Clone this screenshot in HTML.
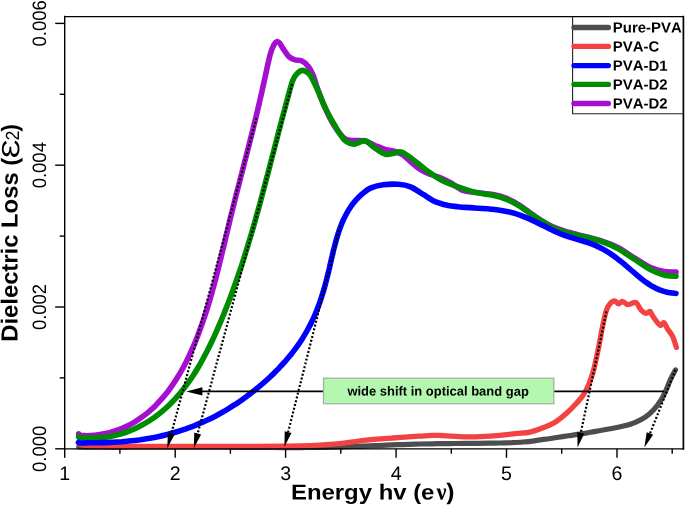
<!DOCTYPE html>
<html lang="en"><head><meta charset="utf-8"><title>Dielectric Loss</title>
<style>
html,body{margin:0;padding:0;background:#fff;}
body{width:685px;height:505px;overflow:hidden;font-family:"Liberation Sans",sans-serif;}
svg{display:block;will-change:transform;}
</style></head><body>
<svg width="685" height="505" viewBox="0 0 685 505">
<rect x="0" y="0" width="685" height="505" fill="#ffffff"/>
<path d="M78.7,447.0 C80.6,447.0 86.3,447.1 90.1,447.1 C93.9,447.2 97.7,447.2 101.5,447.2 C105.3,447.2 109.1,447.2 112.9,447.3 C116.7,447.3 120.5,447.3 124.3,447.3 C128.1,447.3 131.9,447.2 135.7,447.2 C139.5,447.2 143.3,447.2 147.1,447.2 C150.9,447.2 154.7,447.2 158.5,447.1 C162.3,447.1 166.1,447.1 169.9,447.1 C173.7,447.1 177.5,447.1 181.3,447.1 C185.1,447.1 188.9,447.1 192.7,447.1 C196.5,447.1 200.3,447.1 204.1,447.1 C207.9,447.1 211.7,447.1 215.5,447.1 C219.3,447.2 223.1,447.2 226.9,447.2 C230.7,447.3 234.5,447.3 238.3,447.3 C242.1,447.3 245.9,447.4 249.7,447.4 C253.5,447.4 257.3,447.5 261.1,447.5 C264.8,447.5 268.6,447.5 272.4,447.5 C276.2,447.6 280.0,447.6 283.8,447.6 C287.6,447.6 291.4,447.6 295.2,447.6 C299.0,447.6 302.8,447.5 306.6,447.5 C310.4,447.5 314.2,447.4 318.0,447.4 C321.8,447.3 325.6,447.3 329.4,447.2 C333.2,447.1 337.0,447.0 340.8,446.9 C344.6,446.8 348.4,446.7 352.2,446.5 C356.0,446.4 359.8,446.2 363.6,446.1 C367.4,445.9 371.2,445.8 375.0,445.6 C378.8,445.5 382.6,445.3 386.4,445.1 C390.2,445.0 393.9,444.8 397.7,444.7 C401.5,444.5 405.3,444.4 409.1,444.3 C412.9,444.2 416.7,444.1 420.5,444.0 C424.3,443.9 428.1,443.8 431.9,443.8 C435.7,443.7 439.5,443.7 443.3,443.6 C447.1,443.6 450.9,443.5 454.7,443.5 C458.5,443.5 462.3,443.5 466.1,443.4 C469.9,443.4 473.7,443.4 477.5,443.3 C481.3,443.3 485.1,443.3 488.9,443.2 C492.7,443.2 496.5,443.1 500.3,443.0 C504.1,442.9 507.9,442.8 511.7,442.7 C515.5,442.5 519.3,442.3 523.0,442.0 C526.8,441.7 530.6,441.3 534.3,440.8 C538.1,440.3 541.9,439.7 545.6,439.2 C549.4,438.6 553.2,438.0 556.9,437.5 C560.7,436.9 564.5,436.4 568.3,435.8 C572.0,435.3 575.7,434.7 579.4,434.1 C583.2,433.5 586.8,432.9 590.5,432.2 C594.2,431.6 597.9,430.9 601.7,430.3 C605.5,429.6 609.3,429.0 613.1,428.3 C616.9,427.6 620.8,426.8 624.5,425.8 C628.2,424.8 631.9,423.8 635.4,422.3 C638.8,420.8 642.2,419.2 645.2,417.1 C648.3,415.0 651.1,412.5 653.7,409.7 C656.3,407.0 658.6,403.9 660.6,400.7 C662.7,397.5 664.3,394.0 665.9,390.5 C667.5,387.1 668.7,383.4 670.3,379.9 C671.8,376.5 674.6,371.6 675.5,369.9" fill="none" stroke="#4d4d4d" stroke-width="5.2" stroke-linecap="round" stroke-linejoin="round"/>
<path d="M79.5,444.4 C81.2,444.6 83.2,445.4 90.0,445.8 C96.8,446.2 105.0,446.4 120.0,446.5 C135.0,446.6 160.0,446.5 180.0,446.5 C200.0,446.5 220.0,446.5 240.0,446.4 C260.0,446.3 285.1,446.3 300.0,446.0 C314.9,445.7 322.5,444.8 329.2,444.4 C335.9,444.0 333.8,444.4 340.0,443.7 C346.2,443.0 357.5,441.1 366.3,440.1 C375.1,439.2 383.9,438.6 392.6,438.0 C401.4,437.4 412.2,436.6 418.8,436.2 C425.4,435.8 428.3,435.5 432.0,435.4 C435.7,435.3 437.7,435.4 441.0,435.5 C444.3,435.6 448.3,436.0 452.0,436.2 C455.7,436.4 459.2,436.7 463.0,436.8 C466.8,436.9 469.9,437.1 475.0,436.9 C480.1,436.7 487.0,436.4 493.8,435.8 C500.6,435.2 509.7,434.2 515.7,433.6 C521.7,433.0 525.2,433.3 530.0,432.2 C534.8,431.1 540.4,428.8 544.6,427.1 C548.9,425.4 551.9,424.3 555.5,422.0 C559.1,419.7 563.0,416.5 566.5,413.3 C570.0,410.1 573.9,406.1 576.7,403.0 C579.5,399.9 581.3,398.0 583.3,395.0 C585.2,392.0 586.7,389.3 588.4,385.2 C590.1,381.1 591.8,376.7 593.5,370.5 C595.2,364.3 597.0,355.0 598.5,347.9 C600.0,340.8 601.0,333.9 602.3,327.8 C603.5,321.7 604.8,315.4 606.0,311.4 C607.2,307.4 608.3,305.6 609.8,303.9 C611.3,302.1 613.3,300.9 614.8,300.9 C616.3,300.9 617.3,303.8 618.6,303.9 C619.9,304.0 620.9,301.3 622.4,301.4 C623.9,301.5 625.9,304.2 627.4,304.6 C628.9,305.0 630.0,303.9 631.5,303.6 C633.0,303.3 634.6,301.5 636.2,302.6 C637.8,303.7 639.5,308.4 641.2,310.2 C642.9,312.0 644.8,313.2 646.3,313.4 C647.8,313.6 648.8,310.7 650.0,311.4 C651.2,312.1 652.1,315.4 653.8,317.7 C655.5,320.0 658.4,324.5 660.1,325.3 C661.8,326.1 662.6,322.1 663.9,322.7 C665.1,323.3 666.1,326.7 667.6,329.0 C669.1,331.3 671.2,333.5 672.7,336.6 C674.2,339.7 675.8,345.6 676.4,347.4" fill="none" stroke="#f24242" stroke-width="5.3" stroke-linecap="round" stroke-linejoin="round"/>
<path d="M78.7,433.8 C78.8,434.0 78.3,434.9 79.2,435.2 C80.1,435.5 82.2,435.5 84.0,435.6 C85.8,435.7 87.3,435.8 90.0,435.6 C92.6,435.5 96.6,435.1 99.9,434.6 C103.1,434.2 106.2,433.5 109.2,432.8 C112.3,432.0 115.3,431.0 118.1,430.0 C121.0,428.9 123.8,427.7 126.6,426.4 C129.3,425.1 131.9,423.6 134.5,422.1 C137.1,420.5 139.6,418.9 142.0,417.1 C144.5,415.3 146.8,413.5 149.1,411.5 C151.4,409.5 153.6,407.5 155.7,405.4 C157.8,403.2 159.9,401.0 161.9,398.7 C163.9,396.4 165.8,394.1 167.7,391.7 C169.5,389.3 171.3,386.8 173.1,384.2 C174.8,381.7 176.4,379.1 178.0,376.5 C179.7,373.9 181.2,371.2 182.7,368.5 C184.2,365.8 185.6,363.0 187.0,360.2 C188.4,357.4 189.7,354.6 191.0,351.7 C192.3,348.9 193.6,346.0 194.8,343.1 C196.0,340.2 197.1,337.3 198.2,334.4 C199.4,331.5 200.4,328.5 201.5,325.6 C202.5,322.7 203.5,319.7 204.5,316.8 C205.5,313.8 206.5,310.8 207.4,307.9 C208.3,304.9 209.2,301.9 210.1,299.0 C211.0,296.0 211.8,293.0 212.6,290.0 C213.5,287.0 214.3,284.0 215.1,281.0 C215.9,278.0 216.6,275.0 217.4,272.0 C218.2,269.0 218.9,266.0 219.6,263.0 C220.4,260.0 221.1,257.0 221.8,254.0 C222.6,251.0 223.3,248.0 224.0,245.0 C224.7,242.0 225.4,239.0 226.1,236.0 C226.8,233.0 227.6,230.0 228.3,227.0 C229.0,224.0 229.7,221.0 230.4,218.0 C231.2,215.0 231.9,212.0 232.7,209.0 C233.4,206.0 234.2,203.0 234.9,200.0 C235.7,197.0 236.4,194.0 237.2,191.1 C237.9,188.1 238.7,185.1 239.5,182.1 C240.2,179.1 241.0,176.1 241.8,173.1 C242.5,170.2 243.3,167.2 244.1,164.2 C244.8,161.2 245.6,158.2 246.4,155.2 C247.2,152.2 247.9,149.3 248.7,146.3 C249.4,143.3 250.2,140.3 251.0,137.3 C251.7,134.3 252.5,131.3 253.2,128.3 C253.9,125.3 254.7,122.3 255.4,119.3 C256.2,116.3 256.9,113.3 257.6,110.3 C258.3,107.2 259.0,104.2 259.7,101.2 C260.4,98.2 261.1,95.1 261.8,92.1 C262.5,89.1 262.4,89.1 263.8,83.0 C265.2,76.9 268.3,61.6 270.0,55.3 C271.7,49.0 272.6,47.3 273.8,45.0 C275.0,42.7 276.1,41.8 277.1,41.5 C278.1,41.2 279.1,42.5 280.0,43.5 C280.9,44.5 281.1,45.6 282.6,47.8 C284.1,50.0 286.8,54.6 288.9,56.6 C291.0,58.6 293.1,59.1 295.2,59.8 C297.3,60.5 299.4,59.8 301.5,60.8 C303.6,61.8 305.9,63.5 307.8,65.9 C309.8,68.3 311.6,71.6 313.2,75.4 C314.8,79.2 315.5,83.0 317.5,88.5 C319.5,94.0 322.5,102.1 325.2,108.1 C327.9,114.1 330.4,119.5 333.5,124.5 C336.6,129.5 340.9,135.3 344.0,138.0 C347.1,140.7 348.5,140.0 352.0,140.5 C355.5,141.0 361.2,140.2 365.0,141.0 C368.8,141.8 371.7,144.1 375.0,145.5 C378.3,146.9 381.7,148.5 385.0,149.5 C388.3,150.5 392.0,150.6 395.0,151.5 C398.0,152.4 400.3,153.2 403.0,155.0 C405.7,156.8 408.0,159.5 411.0,162.0 C414.0,164.5 417.7,167.9 421.0,170.0 C424.3,172.1 427.7,173.2 431.0,174.5 C434.3,175.8 437.7,176.6 441.0,178.0 C444.3,179.4 447.3,180.9 451.0,183.0 C454.7,185.1 458.8,188.9 463.0,190.5 C467.2,192.1 471.0,191.8 476.0,192.5 C481.0,193.2 487.9,193.7 492.9,194.6 C497.9,195.5 501.6,196.5 506.0,198.2 C510.4,199.9 514.3,201.9 519.2,205.0 C524.1,208.1 530.1,213.2 535.6,216.8 C541.1,220.4 546.6,223.9 552.1,226.5 C557.6,229.1 563.0,230.6 568.5,232.3 C574.0,234.0 579.5,235.1 585.0,236.5 C590.5,237.9 595.9,239.2 601.4,241.0 C606.9,242.8 612.4,244.8 617.9,247.6 C623.4,250.4 628.8,254.5 634.3,257.8 C639.8,261.1 645.9,265.3 650.8,267.6 C655.7,269.9 659.7,270.9 663.9,271.6 C668.1,272.3 674.0,271.9 676.0,272.0" fill="none" stroke="#a50fd2" stroke-width="5.6" stroke-linecap="round" stroke-linejoin="round"/>
<path d="M78.7,436.4 C78.8,436.6 78.3,437.4 79.2,437.6 C80.1,437.8 82.2,437.8 84.0,437.8 C85.8,437.8 87.3,437.7 90.0,437.7 C92.7,437.7 96.7,437.8 100.1,437.6 C103.4,437.4 106.6,437.0 109.9,436.4 C113.1,435.9 116.2,435.2 119.4,434.3 C122.5,433.5 125.5,432.5 128.5,431.3 C131.6,430.2 134.5,428.9 137.4,427.5 C140.3,426.1 143.1,424.5 145.8,422.9 C148.6,421.3 151.3,419.5 153.9,417.7 C156.5,415.8 159.1,413.8 161.5,411.8 C164.0,409.8 166.4,407.6 168.7,405.4 C171.0,403.2 173.3,400.9 175.4,398.6 C177.6,396.2 179.7,393.8 181.7,391.3 C183.7,388.8 185.6,386.3 187.5,383.7 C189.4,381.1 191.2,378.4 193.0,375.7 C194.8,373.0 196.5,370.2 198.1,367.5 C199.8,364.7 201.4,361.8 202.9,359.0 C204.5,356.1 206.0,353.2 207.5,350.3 C208.9,347.4 210.4,344.4 211.8,341.5 C213.2,338.5 214.5,335.6 215.9,332.6 C217.2,329.6 218.5,326.6 219.8,323.6 C221.1,320.6 222.3,317.6 223.6,314.6 C224.8,311.6 226.0,308.6 227.2,305.5 C228.4,302.5 229.5,299.5 230.7,296.4 C231.8,293.4 232.9,290.4 234.0,287.3 C235.1,284.3 236.2,281.2 237.2,278.2 C238.3,275.1 239.3,272.0 240.4,269.0 C241.4,265.9 242.4,262.8 243.4,259.8 C244.4,256.7 245.3,253.6 246.3,250.5 C247.3,247.4 248.2,244.3 249.1,241.3 C250.1,238.2 251.0,235.1 251.9,232.0 C252.8,228.9 253.7,225.8 254.6,222.7 C255.5,219.5 256.3,216.4 257.2,213.3 C258.1,210.2 258.9,207.1 259.8,204.0 C260.6,200.9 261.5,197.7 262.3,194.6 C263.1,191.5 264.0,188.4 264.8,185.2 C265.6,182.1 266.4,179.0 267.3,175.9 C268.1,172.7 268.9,169.6 269.7,166.5 C270.5,163.3 271.3,160.2 272.1,157.1 C273.0,153.9 273.8,150.8 274.6,147.6 C275.4,144.5 276.2,141.4 277.0,138.2 C277.8,135.1 278.6,132.0 279.5,128.8 C280.3,125.7 281.1,122.5 281.9,119.4 C282.8,116.3 283.6,113.1 284.5,110.0 C285.3,106.9 285.6,105.5 287.0,100.6 C288.4,95.7 290.9,85.1 292.7,80.5 C294.5,75.9 295.9,74.6 297.7,72.9 C299.5,71.2 301.4,70.0 303.5,70.4 C305.6,70.8 307.9,72.1 310.3,75.4 C312.7,78.8 315.3,85.0 317.8,90.5 C320.3,96.0 322.7,102.5 325.4,108.1 C328.1,113.7 330.8,118.8 333.9,124.0 C337.0,129.2 340.9,136.2 344.0,139.6 C347.1,142.9 350.3,143.6 352.8,144.1 C355.3,144.6 356.9,143.1 359.0,142.5 C361.1,141.9 362.7,139.8 365.4,140.8 C368.1,141.8 372.0,146.2 375.4,148.4 C378.8,150.6 382.4,153.4 385.5,154.2 C388.6,155.0 391.3,153.5 394.0,153.2 C396.7,152.8 398.6,151.0 401.8,152.1 C405.0,153.2 409.2,156.8 413.2,159.7 C417.2,162.6 421.1,166.3 425.7,169.7 C430.3,173.0 435.8,177.1 440.8,179.8 C445.8,182.5 450.0,184.0 455.9,186.1 C461.8,188.2 470.2,191.1 476.4,192.6 C482.6,194.1 488.0,194.2 492.9,195.3 C497.8,196.4 501.6,197.4 506.0,199.2 C510.4,200.9 514.3,202.8 519.2,205.8 C524.1,208.8 530.1,213.7 535.6,217.3 C541.1,220.9 546.6,224.6 552.1,227.2 C557.6,229.8 563.0,231.5 568.5,233.1 C574.0,234.7 579.5,235.6 585.0,237.0 C590.5,238.4 595.9,239.4 601.4,241.3 C606.9,243.2 612.4,245.6 617.9,248.6 C623.4,251.6 628.8,255.7 634.3,259.2 C639.8,262.7 645.9,267.2 650.8,269.8 C655.7,272.4 659.7,273.9 663.9,275.0 C668.1,276.1 674.0,276.1 676.0,276.3" fill="none" stroke="#008c00" stroke-width="5.6" stroke-linecap="round" stroke-linejoin="round"/>
<path d="M78.7,442.3 C78.8,442.4 77.7,442.8 79.2,442.9 C80.8,443.0 84.0,442.9 88.0,442.8 C92.0,442.7 99.0,442.7 103.1,442.6 C107.2,442.5 109.4,442.4 112.5,442.3 C115.6,442.1 118.8,441.9 121.9,441.7 C125.0,441.4 128.1,441.1 131.2,440.8 C134.4,440.5 137.5,440.1 140.6,439.7 C143.6,439.2 146.7,438.7 149.8,438.2 C152.9,437.7 155.9,437.1 159.0,436.4 C162.0,435.8 165.1,435.0 168.1,434.3 C171.1,433.5 174.1,432.7 177.1,431.8 C180.0,430.9 183.0,429.9 185.9,428.9 C188.9,427.8 191.8,426.7 194.7,425.6 C197.6,424.4 200.4,423.2 203.3,421.9 C206.1,420.6 209.0,419.3 211.8,417.9 C214.6,416.5 217.3,415.0 220.1,413.5 C222.8,412.0 225.5,410.4 228.2,408.8 C230.9,407.2 233.5,405.5 236.2,403.8 C238.8,402.1 241.4,400.3 243.9,398.5 C246.5,396.6 249.0,394.8 251.5,392.8 C254.0,390.9 256.4,388.9 258.8,386.9 C261.2,384.9 263.6,382.9 265.9,380.8 C268.3,378.7 270.5,376.5 272.8,374.4 C275.0,372.2 277.2,369.9 279.4,367.7 C281.5,365.4 283.6,363.1 285.7,360.8 C287.7,358.4 289.7,356.0 291.7,353.6 C293.6,351.1 295.5,348.7 297.3,346.1 C299.1,343.6 300.8,341.1 302.5,338.4 C304.1,335.8 305.7,333.2 307.2,330.5 C308.7,327.8 310.2,325.1 311.5,322.3 C312.9,319.5 314.2,316.7 315.4,313.8 C316.6,310.9 317.7,308.0 318.8,305.1 C319.9,302.2 320.9,299.2 321.8,296.2 C322.8,293.2 323.7,290.2 324.6,287.1 C325.4,284.1 326.2,281.0 327.0,277.9 C327.8,274.8 328.5,271.7 329.3,268.6 C330.0,265.5 330.7,262.4 331.4,259.2 C332.2,256.1 332.9,253.0 333.6,249.9 C334.4,246.9 335.2,243.8 336.0,240.8 C336.9,237.7 337.7,234.8 338.7,231.8 C339.7,228.9 340.8,226.0 341.9,223.2 C343.1,220.4 344.4,217.6 345.8,215.0 C347.2,212.3 348.7,209.8 350.4,207.3 C352.1,204.8 353.9,202.4 355.9,200.2 C358.0,197.9 360.1,195.8 362.5,193.7 C365.0,191.7 367.0,189.6 370.4,188.1 C373.8,186.6 378.4,185.4 383.0,184.8 C387.6,184.2 393.5,184.0 398.1,184.3 C402.7,184.6 406.4,185.1 410.6,186.8 C414.8,188.5 419.0,191.9 423.2,194.4 C427.4,196.9 431.6,200.1 435.8,201.9 C440.0,203.7 444.8,204.7 448.3,205.5 C451.8,206.3 454.0,206.3 456.8,206.6 C459.7,206.9 462.5,207.2 465.4,207.4 C468.3,207.6 471.2,207.8 474.0,207.9 C476.9,208.1 479.8,208.3 482.7,208.5 C485.6,208.7 488.4,208.9 491.3,209.2 C494.1,209.5 497.0,209.8 499.8,210.2 C502.6,210.6 505.4,211.1 508.1,211.7 C510.9,212.3 513.6,213.0 516.3,213.9 C519.0,214.7 521.6,215.7 524.3,216.8 C526.9,217.8 529.5,219.0 532.1,220.2 C534.6,221.4 537.2,222.7 539.8,224.0 C542.3,225.2 544.9,226.6 547.5,227.8 C550.1,229.1 552.7,230.4 555.3,231.6 C557.9,232.7 560.6,233.9 563.2,234.9 C565.9,235.9 568.7,236.8 571.4,237.7 C574.2,238.6 576.9,239.3 579.7,240.1 C582.4,240.9 585.2,241.7 587.9,242.6 C590.6,243.5 593.3,244.5 595.9,245.6 C598.5,246.8 601.0,248.0 603.4,249.4 C605.9,250.8 608.3,252.3 610.7,253.9 C613.0,255.4 615.3,257.1 617.6,258.9 C619.9,260.6 622.1,262.5 624.4,264.3 C626.6,266.2 628.8,268.1 631.0,270.0 C633.2,271.9 635.4,273.8 637.6,275.7 C639.8,277.5 642.0,279.4 644.3,281.1 C646.7,282.7 649.0,284.4 651.4,285.8 C653.9,287.2 656.3,288.6 659.0,289.7 C661.6,290.8 664.3,291.7 667.1,292.3 C669.9,293.0 674.5,293.3 676.0,293.5" fill="none" stroke="#0000ff" stroke-width="5.6" stroke-linecap="round" stroke-linejoin="round"/>
<path d="M64.7,448.8 V16.5" fill="none" stroke="#000" stroke-width="1.4" stroke-linecap="square"/>
<path d="M64.7,16.5 H683.4" fill="none" stroke="#000" stroke-width="1.25" stroke-linecap="square"/>
<path d="M64.7,448.8 H683.4" fill="none" stroke="#000" stroke-width="1.3" stroke-linecap="square"/>
<path d="M683.4,448.8 V16.5" fill="none" stroke="#000" stroke-width="1.7" stroke-linecap="square"/>
<line x1="64.7" y1="448.8" x2="64.7" y2="457.8" stroke="#000" stroke-width="1.4"/>
<line x1="119.9" y1="448.8" x2="119.9" y2="453.8" stroke="#000" stroke-width="1.4"/>
<line x1="175.2" y1="448.8" x2="175.2" y2="457.8" stroke="#000" stroke-width="1.4"/>
<line x1="230.4" y1="448.8" x2="230.4" y2="453.8" stroke="#000" stroke-width="1.4"/>
<line x1="285.6" y1="448.8" x2="285.6" y2="457.8" stroke="#000" stroke-width="1.4"/>
<line x1="340.8" y1="448.8" x2="340.8" y2="453.8" stroke="#000" stroke-width="1.4"/>
<line x1="396.1" y1="448.8" x2="396.1" y2="457.8" stroke="#000" stroke-width="1.4"/>
<line x1="451.3" y1="448.8" x2="451.3" y2="453.8" stroke="#000" stroke-width="1.4"/>
<line x1="506.5" y1="448.8" x2="506.5" y2="457.8" stroke="#000" stroke-width="1.4"/>
<line x1="561.7" y1="448.8" x2="561.7" y2="453.8" stroke="#000" stroke-width="1.4"/>
<line x1="617.0" y1="448.8" x2="617.0" y2="457.8" stroke="#000" stroke-width="1.4"/>
<line x1="672.2" y1="448.8" x2="672.2" y2="453.8" stroke="#000" stroke-width="1.4"/>
<line x1="64.7" y1="448.8" x2="55.2" y2="448.8" stroke="#000" stroke-width="1.4"/>
<line x1="64.7" y1="377.9" x2="59.7" y2="377.9" stroke="#000" stroke-width="1.4"/>
<line x1="64.7" y1="307.0" x2="55.2" y2="307.0" stroke="#000" stroke-width="1.4"/>
<line x1="64.7" y1="236.1" x2="59.7" y2="236.1" stroke="#000" stroke-width="1.4"/>
<line x1="64.7" y1="165.2" x2="55.2" y2="165.2" stroke="#000" stroke-width="1.4"/>
<line x1="64.7" y1="94.3" x2="59.7" y2="94.3" stroke="#000" stroke-width="1.4"/>
<line x1="64.7" y1="23.4" x2="55.2" y2="23.4" stroke="#000" stroke-width="1.4"/>
<text transform="translate(64.7,479.9) rotate(0.05)" font-size="19.6" text-anchor="middle" font-family="Liberation Sans, sans-serif" fill="#000">1</text>
<text transform="translate(175.2,479.9) rotate(0.05)" font-size="19.6" text-anchor="middle" font-family="Liberation Sans, sans-serif" fill="#000">2</text>
<text transform="translate(285.6,479.9) rotate(0.05)" font-size="19.6" text-anchor="middle" font-family="Liberation Sans, sans-serif" fill="#000">3</text>
<text transform="translate(396.1,479.9) rotate(0.05)" font-size="19.6" text-anchor="middle" font-family="Liberation Sans, sans-serif" fill="#000">4</text>
<text transform="translate(506.5,479.9) rotate(0.05)" font-size="19.6" text-anchor="middle" font-family="Liberation Sans, sans-serif" fill="#000">5</text>
<text transform="translate(617.0,479.9) rotate(0.05)" font-size="19.6" text-anchor="middle" font-family="Liberation Sans, sans-serif" fill="#000">6</text>
<text transform="translate(46.0,448.8) rotate(-89.95)" font-size="19.4" text-anchor="middle" textLength="46.2" lengthAdjust="spacingAndGlyphs" font-family="Liberation Sans, sans-serif" fill="#000">0.000</text>
<text transform="translate(46.0,307.0) rotate(-89.95)" font-size="19.4" text-anchor="middle" textLength="46.2" lengthAdjust="spacingAndGlyphs" font-family="Liberation Sans, sans-serif" fill="#000">0.002</text>
<text transform="translate(46.0,165.2) rotate(-89.95)" font-size="19.4" text-anchor="middle" textLength="46.2" lengthAdjust="spacingAndGlyphs" font-family="Liberation Sans, sans-serif" fill="#000">0.004</text>
<text transform="translate(46.0,23.4) rotate(-89.95)" font-size="19.4" text-anchor="middle" textLength="46.2" lengthAdjust="spacingAndGlyphs" font-family="Liberation Sans, sans-serif" fill="#000">0.006</text>
<text transform="translate(291.0,499.5) rotate(0.05)" style="font-kerning:none" font-size="21.6" font-weight="bold" font-family="Liberation Sans, sans-serif" textLength="143.4" lengthAdjust="spacingAndGlyphs">Energy hv (e</text>
<text transform="translate(436.6,499.5) rotate(0.05)" font-size="24" font-weight="bold" font-family="Liberation Serif, serif" textLength="10" lengthAdjust="spacingAndGlyphs">&#957;</text>
<text transform="translate(446.2,499.5) rotate(0.05)" font-size="23" font-weight="bold" font-family="Liberation Sans, sans-serif" textLength="8.2" lengthAdjust="spacingAndGlyphs">)</text>
<g transform="translate(17.5,341.8) rotate(-89.95)" style="font-kerning:none"><text x="0" y="0" font-size="23.3" font-weight="bold" font-family="Liberation Sans, sans-serif" textLength="184" lengthAdjust="spacingAndGlyphs">Dielectric Loss (</text><text x="183.6" y="1.5" font-size="25" font-family="Liberation Sans, sans-serif" textLength="19" lengthAdjust="spacingAndGlyphs">&#400;</text><text x="201.3" y="1.2" font-size="19" font-family="Liberation Sans, sans-serif" textLength="9.8" lengthAdjust="spacingAndGlyphs">2</text><text x="210.1" y="0" font-size="23.3" font-weight="bold" font-family="Liberation Sans, sans-serif">)</text></g>
<path d="M572.6,16.5 V113.7 H683.4" fill="none" stroke="#222" stroke-width="1.1"/>
<line x1="574" y1="27.5" x2="608.4" y2="27.5" stroke="#4d4d4d" stroke-width="5.3" stroke-linecap="round"/>
<text transform="translate(612.8,32.5) rotate(0.05) scale(1.018,1)" font-size="14.7" font-weight="bold" style="font-kerning:none" font-family="Liberation Sans, sans-serif">Pure-PVA</text>
<line x1="574" y1="46.4" x2="608.4" y2="46.4" stroke="#f24242" stroke-width="5.3" stroke-linecap="round"/>
<text transform="translate(612.8,51.4) rotate(0.05) scale(1.018,1)" font-size="14.7" font-weight="bold" style="font-kerning:none" font-family="Liberation Sans, sans-serif">PVA-C</text>
<line x1="574" y1="65.6" x2="608.4" y2="65.6" stroke="#0000ff" stroke-width="5.3" stroke-linecap="round"/>
<text transform="translate(612.8,70.6) rotate(0.05) scale(1.018,1)" font-size="14.7" font-weight="bold" style="font-kerning:none" font-family="Liberation Sans, sans-serif">PVA-D1</text>
<line x1="574" y1="84.4" x2="608.4" y2="84.4" stroke="#008c00" stroke-width="5.3" stroke-linecap="round"/>
<text transform="translate(612.8,89.4) rotate(0.05) scale(1.018,1)" font-size="14.7" font-weight="bold" style="font-kerning:none" font-family="Liberation Sans, sans-serif">PVA-D2</text>
<line x1="574" y1="103.5" x2="608.4" y2="103.5" stroke="#a50fd2" stroke-width="5.3" stroke-linecap="round"/>
<text transform="translate(612.8,108.5) rotate(0.05) scale(1.018,1)" font-size="14.7" font-weight="bold" style="font-kerning:none" font-family="Liberation Sans, sans-serif">PVA-D2</text>
<line x1="200" y1="391.4" x2="664.2" y2="391.4" stroke="#000" stroke-width="1.6"/>
<polygon points="186.2,391.4 202.4,387.2 202.4,395.6" fill="#000"/>
<rect x="323.5" y="378.2" width="230.3" height="25.5" fill="#b3f7b0" stroke="#a3b3a3" stroke-width="1.3"/>
<text transform="translate(347.4,395.5) rotate(0.05)" style="font-kerning:none" font-size="13" font-weight="bold" font-family="Liberation Sans, sans-serif" textLength="181.4" lengthAdjust="spacingAndGlyphs">wide shift in optical band gap</text>
<line x1="256.5" y1="118.0" x2="171.3" y2="433.5" stroke="#000" stroke-width="2.2" stroke-dasharray="2.0 1.9"/><polygon points="167.3,448.2 167.9,432.6 174.6,434.4" fill="#000"/>
<line x1="292.2" y1="84.0" x2="197.7" y2="433.5" stroke="#000" stroke-width="2.2" stroke-dasharray="2.0 1.9"/><polygon points="193.8,448.2 194.3,432.6 201.1,434.4" fill="#000"/>
<line x1="340.2" y1="226.3" x2="288.1" y2="432.1" stroke="#000" stroke-width="2.2" stroke-dasharray="2.0 1.9"/><polygon points="284.4,446.8 284.7,431.2 291.5,432.9" fill="#000"/>
<line x1="606.5" y1="311.4" x2="580.8" y2="432.7" stroke="#000" stroke-width="2.2" stroke-dasharray="2.0 1.9"/><polygon points="577.6,447.6 577.3,432.0 584.2,433.5" fill="#000"/>
<line x1="675.5" y1="369.9" x2="650.0" y2="433.5" stroke="#000" stroke-width="2.2" stroke-dasharray="2.0 1.9"/><polygon points="644.3,447.6 646.7,432.2 653.2,434.8" fill="#000"/>
</svg>
</body></html>
